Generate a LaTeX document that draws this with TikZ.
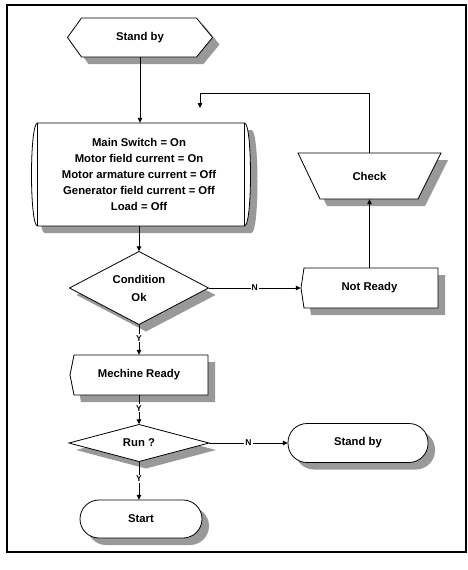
\documentclass[tikz,border=0pt]{standalone}
\usepackage{fontspec}
\setmainfont{Liberation Sans}
\usetikzlibrary{arrows.meta,calc}
% all outline shapes in plain coordinates; #1 = style
\newcommand\allshapes[1]{%
  \path[#1] (67.5,37.5) -- (81.5,18) -- (196.5,18) -- (212.5,37.5) -- (196.5,57) -- (81.5,57) -- cycle;
  \path[#1] (37.5,123) .. controls (29.5,123) and (29.5,226) .. (37.5,226) -- (244.5,226)
     .. controls (252.5,226) and (252.5,123) .. (244.5,123) -- cycle;
  \path[#1] (298,153) -- (441,153) -- (418,199) -- (320,199) -- cycle;
  \path[#1] (301,288) -- (304,268) -- (438,268) -- (438,308) -- (304,308) -- cycle;
  \path[#1] (69.5,288) -- (139,251.5) -- (208.5,288) -- (139,324.5) -- cycle;
  \path[#1] (70,375) -- (74,355) -- (208,355) -- (208,395) -- (74,395) -- cycle;
  \path[#1] (69,443) -- (139,424.5) -- (209,443) -- (139,461.5) -- cycle;
  \path[#1, rounded corners=19pt] (288,423.5) rectangle (428,462.5);
  \path[#1, rounded corners=19pt] (80,500) rectangle (202,538);
}
\begin{document}
\begin{tikzpicture}[x=1pt,y=-1pt,
  box/.style={draw=none, inner sep=0pt},
  txt/.style={draw=none, inner sep=0pt, align=center, font=\fontsize{11.3}{16}\selectfont\bfseries},
  shp/.style={draw=black, line width=0.8pt, fill=white},
  shd/.style={fill=black!40, draw=none},
  ln/.style={draw=black, line width=0.8pt},
  arr/.style={draw=black, line width=0.8pt, -{Triangle[length=5pt,width=4.5pt]}},
  lbl/.style={fill=white, inner sep=1pt, font=\fontsize{8.5}{9}\selectfont\bfseries},
]
\useasboundingbox (0,0) rectangle (468,570);
\draw[line width=1.2pt] (7,5) rectangle (466,552);

% shadows, then shapes
\begin{scope}[shift={(7,7)}]
  \allshapes{shd}
\end{scope}
\allshapes{shp}
\draw[ln] (37.5,123) -- (37.5,226);
\draw[ln] (244.5,123) -- (244.5,226);

% nodes (geometry + text)
\node[txt, minimum width=145pt, minimum height=39pt] (sb) at (140,37.5) {Stand by};
\node[box, minimum width=207pt, minimum height=103pt] (main) at (141,174.5) {};
\node[txt] (mainT) at (139,174.5)
  {Main Switch = On\\Motor field current = On\\Motor armature current = Off\\Generator field current = Off\\Load = Off};
\node[txt, minimum width=143pt, minimum height=46pt] (check) at (369.5,176) {Check};
\node[txt, minimum width=137pt, minimum height=40pt] (nr) at (369.5,288) {Not Ready};
\node[txt, minimum width=139pt, minimum height=73pt, font=\fontsize{11.3}{18}\selectfont\bfseries] (cond) at (139,288) {Condition\\Ok};
\node[txt, minimum width=138pt, minimum height=40pt] (mr) at (139,375) {Mechine Ready};
\node[txt, minimum width=140pt, minimum height=37pt] (run) at (139,443) {Run ?};
\node[txt, minimum width=140pt, minimum height=39pt] (sb2) at (358,443) {Stand by};
\node[txt, minimum width=122pt, minimum height=38pt] (start) at (141,519) {Start};
\coordinate (looptop) at (200,93);
\coordinate (loopend) at (200,108);

% connectors
\draw[arr] (sb.south) -- (sb.south |- main.north);
\draw[arr] (cond.north |- main.south) -- (cond.north);
\draw[arr] (cond.east) -- node[lbl]{N} (nr.west);
\draw[arr] (nr.north) -- (check.south);
\draw[arr] (check.north) |- (looptop) -- (loopend);
\draw[arr] (cond.south) -- node[lbl, pos=0.45]{Y} (mr.north);
\draw[arr] (mr.south) -- node[lbl, pos=0.45]{Y} (run.north);
\draw[arr] (run.east) -- node[lbl]{N} (sb2.west);
\draw[arr] (run.south) -- node[lbl, pos=0.45]{Y} (run.south |- start.north);
\end{tikzpicture}
\end{document}
